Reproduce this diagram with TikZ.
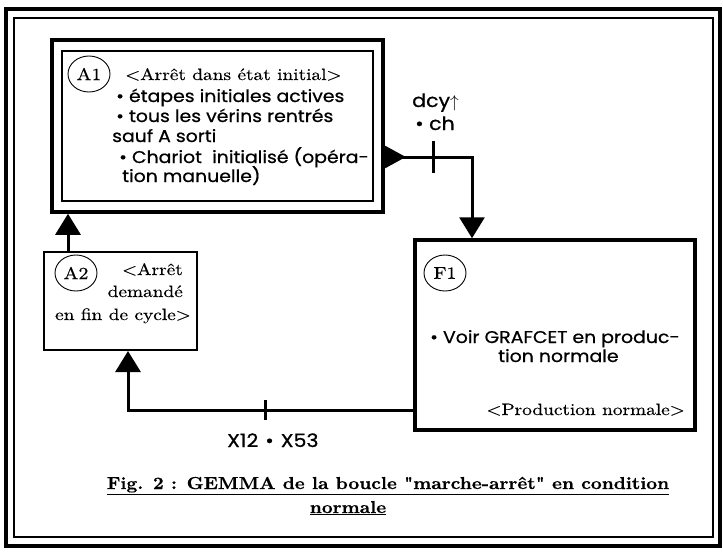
\documentclass[tikz,border=0pt]{standalone}
\usepackage{fontspec}
\newfontfamily\gothic{Poppins}[FakeStretch=1.11, FakeBold=0.7]
\newfontfamily\schola{lmroman10-regular}[Extension=.otf, FakeStretch=1.17, FakeBold=0.4]
\newfontfamily\capfont{lmroman10-bold}[Extension=.otf, FakeStretch=1.09, FakeBold=0.5]
\usetikzlibrary{arrows.meta,shapes.geometric}
\tikzset{
  x=1pt, y=-1pt,
  frameheavy/.style={line width=4pt},
  framelight/.style={line width=1.2pt},
  heavybox/.style={draw, line width=3.5pt, inner sep=0pt},
  lightbox/.style={draw, line width=1.3pt, inner sep=0pt, outer sep=0pt},
  stepbox/.style={draw, line width=2pt, inner sep=0pt},
  tag/.style={ellipse, draw, line width=0.9pt, minimum width=42pt, minimum height=36pt,
              inner sep=0pt, font=\schola\fontsize{17}{17}\selectfont},
  sans/.style={inner sep=0pt, anchor=base west, font=\gothic\fontsize{17}{17}\selectfont},
  bigsans/.style={sans, font=\gothic\fontsize{18.5}{18.5}\selectfont},
  serif/.style={inner sep=0pt, anchor=base west, font=\schola\fontsize{16.5}{16.5}\selectfont},
  caption/.style={inner sep=0pt, anchor=base, font=\capfont\fontsize{17.3}{17.3}\selectfont},
  link/.style={line width=3pt, -{Triangle[width=25pt,length=21pt]}},
  tick/.style={line width=3pt},
}
\begin{document}
\begin{tikzpicture}
\useasboundingbox (0,0) rectangle (723,552);
\fill[white] (0,0) rectangle (723,552);

% page frame
\draw[frameheavy] (6,9) rectangle (720,546);
\draw[framelight] (14,18) rectangle (713,537);

% states
\node[heavybox, minimum width=331pt, minimum height=172pt] (A1) at (217.5,126) {};
\node[lightbox, minimum width=311pt, minimum height=150pt] (A1in) at (A1.center) {};
\node[heavybox, minimum width=280pt, minimum height=190pt] (F1) at (555,335) {};
\node[stepbox, minimum width=153pt, minimum height=98pt] (A2) at (120.5,301) {};

% state tags
\node[tag] (tA1) at (89,74) {A1};
\node[tag] (tA2) at (76,273) {A2};
\node[tag] (tF1) at (445,273) {F1};

% A1 texts
\node[serif] (a1t) at (125,80) {<Arrêt dans état initial>};
\node[sans] (a1l1) at (116,102) {• étapes initiales actives};
\node[sans] (a1l2) at (116,122) {• tous les vérins rentrés};
\node[sans] (a1l3) at (112,142) {sauf A sorti};
\node[sans] (a1l4) at (119,163) {• Chariot\ \ initialisé (opéra-};
\node[sans] (a1l5) at (122,182) {tion manuelle)};

% A2 texts
\node[serif, anchor=base east] (a2l1) at (183,275) {<Arrêt};
\node[serif, anchor=base east] (a2l2) at (183,297) {demandé};
\node[serif, anchor=base east] (a2l3) at (191,320) {en fin de cycle>};

% F1 texts
\node[sans] (f1l1) at (430,343) {• Voir GRAFCET en produc-};
\node[sans] (f1l2) at (498,362) {tion normale};
\node[serif, anchor=base east] (f1t) at (685,415) {<Production normale>};

% A1 -> F1
\coordinate (bend1) at (472,157);
\coordinate (t1) at (433,157);
\fill ([yshift=11.5pt]A1.east |- bend1) -- ++(21,11.5) -- ++(-21,11.5) -- cycle;
\draw[link] (A1.east |- bend1) -- (bend1) -- (F1.north -| bend1);
\draw[tick] ([yshift=16pt]t1) -- ([yshift=-16pt]t1);
\node[bigsans] (r1a) at (412,107) {dcy$\uparrow$};
\node[bigsans] (r1b) at (415,130) {• ch};

% F1 -> A2
\coordinate (bend2) at (128,410);
\coordinate (t2) at (265,410);
\draw[link] (F1.west |- bend2) -- (bend2) -- (A2.south -| bend2);
\draw[tick] ([yshift=10pt]t2) -- ([yshift=-10pt]t2);
\node[bigsans] (r2) at (227,447) {X12\hspace{7pt}•\hspace{7pt}X53};

% A2 -> A1
\coordinate (rise) at (68,232);
\draw[link] (A2.north -| rise) -- (A1.south -| rise);

% caption
\node[caption] (cap1) at (388,489)
  {\underline{Fig. 2 : GEMMA de la boucle \char"22 marche-arrêt\char"22\ en condition}};
\node[caption] (cap2) at (348,513) {\underline{normale}};
\end{tikzpicture}
\end{document}
